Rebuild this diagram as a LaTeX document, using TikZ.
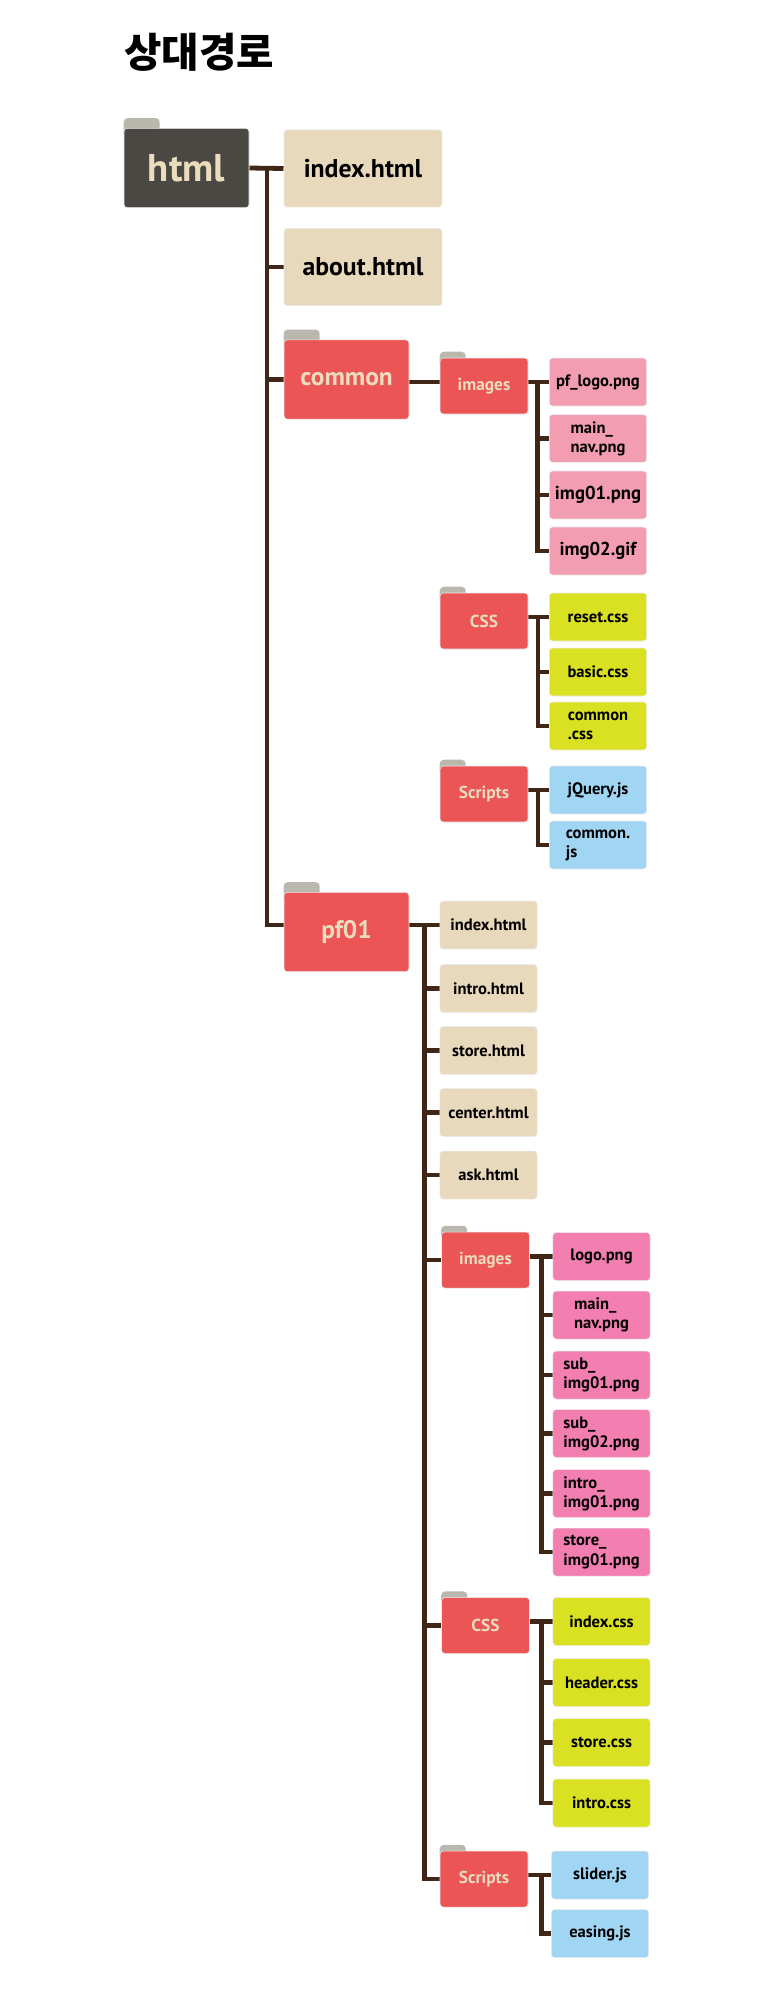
\documentclass[tikz,border=0pt]{standalone}
\usepackage{fontspec}
\setmainfont{PT Sans}
\newfontfamily\kofont{Noto Sans CJK KR}
\usetikzlibrary{calc}
\usetikzlibrary{backgrounds}

\definecolor{folderred}{RGB}{235,85,86}
\definecolor{folderdark}{RGB}{74,72,67}
\definecolor{tabgray}{RGB}{186,184,174}
\definecolor{labelcream}{RGB}{236,220,190}
\definecolor{htmlcream}{RGB}{233,217,188}
\definecolor{imgpink}{RGB}{242,157,177}
\definecolor{hotpink}{RGB}{243,126,176}
\definecolor{cssgreen}{RGB}{218,225,34}
\definecolor{jsblue}{RGB}{160,213,244}
\definecolor{wirebrown}{RGB}{63,38,22}

\tikzset{
  wire/.style={draw=wirebrown, line width=3.6pt},
  box/.style={rounded corners=2.5pt, draw=black!8, line width=0.4pt, inner sep=0pt, align=left},
  bigfolder/.style={box, fill=folderred, text=labelcream, minimum width=93.75pt, minimum height=59.5pt, font=\bfseries\fontsize{19}{22}\selectfont},
  smallfolder/.style={box, fill=folderred, text=labelcream, minimum width=66pt, minimum height=42pt, font=\bfseries\fontsize{13}{16}\selectfont},
  bigfile/.style={box, fill=htmlcream, minimum width=118.5pt, minimum height=58pt, font=\bfseries\fontsize{19.3}{22}\selectfont},
  smallfile/.style={box, minimum width=73pt, minimum height=36pt, font=\bfseries\fontsize{12.4}{14.3}\selectfont},
  bigtab/.style={fill=tabgray, rounded corners=3pt},
}

\begin{document}
\begin{tikzpicture}[x=0.75pt,y=0.75pt,yscale=-1,xscale=1]
\useasboundingbox (0,0) rectangle (776,2000);

% Title
\node[anchor=west, inner sep=0pt, font=\kofont\bfseries\fontsize{30.5}{34}\selectfont] (title) at (124,52) {상대경로};

%Folder: html (root)
\node[bigfolder, fill=folderdark, font=\bfseries\fontsize{29}{32}\selectfont] (html) at (186.5,168) {html};
\node[bigfile] (index) at (363,168.5) {index.html};
\node[bigfile] (about) at (363,267) {about.html};
\node[bigfolder] (common) at (346.5,379.5) {common};
\node[bigfolder] (pf01) at (346.5,932) {pf01};

%Folder: common/images
\node[smallfolder] (cimg) at (484,386) {images};
\node[smallfile, fill=imgpink] (cpng1) at (598,382) {pf\_logo.png};
\node[smallfile, fill=imgpink] (cpng2) at (598,438.5) {main\_\\nav.png};
\node[smallfile, fill=imgpink, font=\bfseries\fontsize{14}{16}\selectfont] (cpng3) at (598,495) {img01.png};
\node[smallfile, fill=imgpink, font=\bfseries\fontsize{14}{16}\selectfont] (cpng4) at (598,551) {img02.gif};

%Folder: common/CSS
\node[smallfolder] (ccss) at (484,621) {CSS};
\node[smallfile, fill=cssgreen] (creset) at (598,617) {reset.css};
\node[smallfile, fill=cssgreen] (cbasic) at (598,672) {basic.css};
\node[smallfile, fill=cssgreen] (ccomcss) at (598,726) {common\\.css};

%Folder: common/Scripts
\node[smallfolder] (cjs) at (484,794) {Scripts};
\node[smallfile, fill=jsblue] (cjquery) at (598,790) {jQuery.js};
\node[smallfile, fill=jsblue] (ccomjs) at (598,845) {common.\\js};

%Files: pf01
\node[smallfile, fill=htmlcream] (pindex) at (488.5,925) {index.html};
\node[smallfile, fill=htmlcream] (pintro) at (488.5,988.5) {intro.html};
\node[smallfile, fill=htmlcream] (pstore) at (488.5,1050.5) {store.html};
\node[smallfile, fill=htmlcream] (pcenter) at (488.5,1112.5) {center.html};
\node[smallfile, fill=htmlcream] (pask) at (488.5,1175) {ask.html};

%Folder: pf01/images
\node[smallfolder] (pimg) at (485.5,1260) {images};
\node[smallfile, fill=hotpink] (plogo) at (601.5,1256.5) {logo.png};
\node[smallfile, fill=hotpink] (pmain) at (601.5,1315) {main\_\\nav.png};
\node[smallfile, fill=hotpink] (psub1) at (601.5,1375) {sub\_\\img01.png};
\node[smallfile, fill=hotpink] (psub2) at (601.5,1433.5) {sub\_\\img02.png};
\node[smallfile, fill=hotpink] (pintro1) at (601.5,1493.5) {intro\_\\img01.png};
\node[smallfile, fill=hotpink] (pstore1) at (601.5,1552) {store\_\\img01.png};

%Folder: pf01/CSS
\node[smallfolder] (pcss) at (485.5,1625.5) {CSS};
\node[smallfile, fill=cssgreen] (pidxcss) at (601.5,1621.5) {index.css};
\node[smallfile, fill=cssgreen] (phead) at (601.5,1682.5) {header.css};
\node[smallfile, fill=cssgreen] (pstorecss) at (601.5,1742.5) {store.css};
\node[smallfile, fill=cssgreen] (pintrocss) at (601.5,1803) {intro.css};

%Folder: pf01/Scripts
\node[smallfolder] (pjs) at (484,1879) {Scripts};
\node[smallfile, fill=jsblue] (pslider) at (600,1875) {slider.js};
\node[smallfile, fill=jsblue] (peasing) at (600,1933.5) {easing.js};

% trunk points
\coordinate (hT) at (267,168);
\coordinate (pT) at (424.5,925);
\coordinate (ciT) at (537.5,382);
\coordinate (ccT) at (538,617);
\coordinate (cjT) at (538,790);
\coordinate (piT) at (541.5,1256.5);
\coordinate (pcT) at (541.5,1621.5);
\coordinate (pjT) at (541.5,1875);

\begin{scope}[on background layer]
%Tabs
\foreach \f in {html,common,pf01}
  \fill[bigtab] ($(\f.north west)+(0,-10)$) rectangle ++(36,20);
\foreach \f in {cimg,ccss,cjs,pimg,pcss,pjs}
  \fill[bigtab] ($(\f.north west)+(0,-6)$) rectangle ++(26,16);

%Lines: html
\draw[wire] (html.east) -- (index.west);
\draw[wire] (hT) |- (pf01.west |- pT);
\foreach \n in {about,common}
  \draw[wire] (hT |- \n.west) -- (\n.west);

%Lines: common
\draw[wire] (common.east |- ciT) -- (cpng1.west);
\draw[wire] (ciT) |- (cpng4.west);
\foreach \n in {cpng2,cpng3}
  \draw[wire] (ciT |- \n.west) -- (\n.west);
\draw[wire] (ccss.east |- ccT) -- (creset.west);
\draw[wire] (ccT) |- (ccomcss.west);
\draw[wire] (ccT |- cbasic.west) -- (cbasic.west);
\draw[wire] (cjs.east |- cjT) -- (cjquery.west);
\draw[wire] (cjT) |- (ccomjs.west);

%Lines: pf01
\draw[wire] (pf01.east |- pT) -- (pindex.west);
\draw[wire] (pT) |- (pjs.west);
\foreach \n in {pintro,pstore,pcenter,pask,pimg,pcss}
  \draw[wire] (pT |- \n.west) -- (\n.west);
\draw[wire] (pimg.east |- piT) -- (plogo.west);
\draw[wire] (piT) |- (pstore1.west);
\foreach \n in {pmain,psub1,psub2,pintro1}
  \draw[wire] (piT |- \n.west) -- (\n.west);
\draw[wire] (pcss.east |- pcT) -- (pidxcss.west);
\draw[wire] (pcT) |- (pintrocss.west);
\foreach \n in {phead,pstorecss}
  \draw[wire] (pcT |- \n.west) -- (\n.west);
\draw[wire] (pjs.east |- pjT) -- (pslider.west);
\draw[wire] (pjT) |- (peasing.west);
\end{scope}

\end{tikzpicture}
\end{document}
